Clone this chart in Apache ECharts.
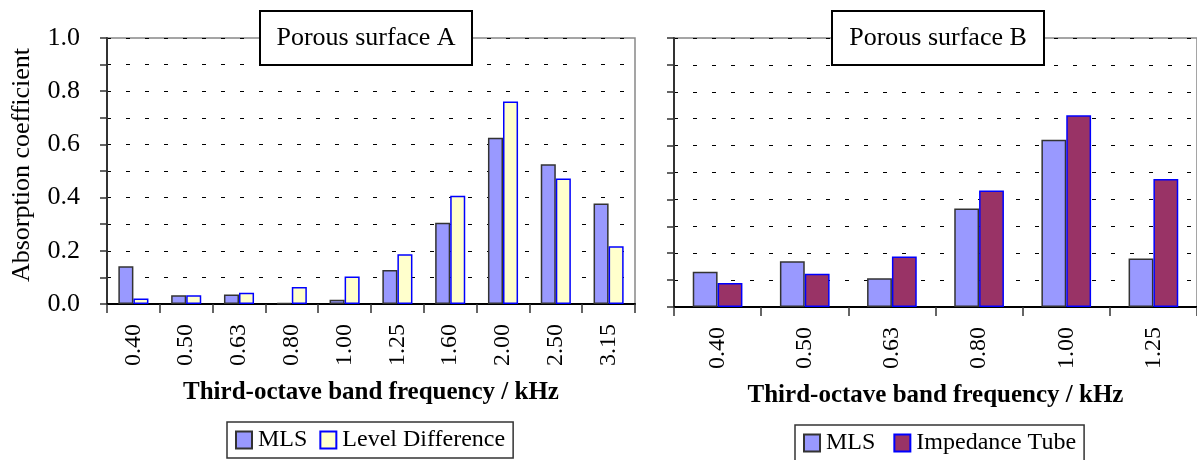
<!DOCTYPE html>
<html>
<head>
<meta charset="utf-8">
<script src="https://cdn.jsdelivr.net/npm/echarts@6/dist/echarts.min.js"></script>
<style>
html,body{margin:0;padding:0;background:#fff;}
#chart{width:1197px;height:460px;}
</style>
</head>
<body>
<div id="chart"></div>
<script>
// ---- data ----
const categoriesA = ['0.40','0.50','0.63','0.80','1.00','1.25','1.60','2.00','2.50','3.15'];
const mlsA = [0.142, 0.033, 0.036, 0.003, 0.016, 0.128, 0.305, 0.625, 0.525, 0.378];
const levelDiffA = [0.021, 0.033, 0.042, 0.064, 0.103, 0.187, 0.407, 0.761, 0.472, 0.217];

const categoriesB = ['0.40','0.50','0.63','0.80','1.00','1.25'];
const mlsB = [0.131, 0.170, 0.107, 0.366, 0.622, 0.180];
const tubeB = [0.089, 0.124, 0.188, 0.433, 0.713, 0.476];

const yTickLabels = ['0.0','0.2','0.4','0.6','0.8','1.0'];
const titleA = 'Porous surface A';
const titleB = 'Porous surface B';
const xAxisName = 'Third-octave band frequency / kHz';
const yAxisName = 'Absorption coefficient';

// ---- styles ----
const FONT = "'Liberation Serif', 'Times New Roman', serif";
const C_MLS = '#9999ff', C_LD = '#ffffcc', C_TUBE = '#993366';

const chart = echarts.init(document.getElementById('chart'), null, {renderer: 'canvas'});

function yAxis(gridIndex, showLabels) {
  return {
    type: 'value', gridIndex, min: 0, max: 1, interval: 0.1,
    name: showLabels ? yAxisName : '',
    nameLocation: 'middle', nameGap: 72,
    nameTextStyle: {fontFamily: FONT, fontSize: 26, color: '#000', padding: [0, 0, 0, 12]},
    axisLine: {show: true, lineStyle: {color: '#333', width: 2}},
    axisTick: {show: true, length: 7, lineStyle: {color: '#333', width: 1.5}},
    axisLabel: {
      show: showLabels, margin: 27, fontFamily: FONT, fontSize: 26, color: '#000',
      formatter: v => { const s = v.toFixed(1); return yTickLabels.includes(s) ? s : ''; }
    },
    splitLine: {show: true, lineStyle: {color: '#000', width: 1, type: [4, 15]}}
  };
}
function xAxis(gridIndex, cats) {
  return {
    type: 'category', gridIndex, data: cats,
    name: xAxisName, nameLocation: 'middle', nameGap: 76,
    nameTextStyle: {fontFamily: FONT, fontSize: 25, fontWeight: 'bold', color: '#000'},
    axisLine: {show: true, lineStyle: {color: '#000', width: 2}},
    axisTick: {show: true, length: 9, lineStyle: {color: '#333', width: 1.5}},
    axisLabel: {rotate: 90, margin: 20, fontFamily: FONT, fontSize: 24, color: '#000'},
    splitLine: {show: false}
  };
}

const option = {
  animation: false,
  backgroundColor: '#fff',
  grid: [
    {left: 107, top: 38, width: 528, height: 266, show: true, borderColor: '#888', borderWidth: 1.5, backgroundColor: 'transparent'},
    {left: 674, top: 38, width: 530, height: 269, show: true, borderColor: '#888', borderWidth: 1.5, backgroundColor: 'transparent'}
  ],
  xAxis: [xAxis(0, categoriesA), xAxis(1, categoriesB)],
  yAxis: [yAxis(0, true), yAxis(1, false)],
  legend: [
    {
      data: ['MLS', 'Level Difference'], left: 227, top: 422,
      padding: [6, 8, 6, 8], itemGap: 12, itemWidth: 16, itemHeight: 17,
      borderColor: '#333', borderWidth: 1.5, icon: 'rect',
      textStyle: {fontFamily: FONT, fontSize: 24, color: '#000', padding: [0, 0, 0, 1]}
    },
    {
      data: ['MLS ', 'Impedance Tube'], left: 795, top: 425,
      padding: [6, 8, 6, 8], itemGap: 12, itemWidth: 16, itemHeight: 17,
      borderColor: '#333', borderWidth: 1.5, icon: 'rect',
      textStyle: {fontFamily: FONT, fontSize: 24, color: '#000', padding: [0, 0, 0, 1]}
    }
  ],
  series: [
    {name: 'MLS', type: 'bar', xAxisIndex: 0, yAxisIndex: 0, data: mlsA,
     barGap: '0%', barCategoryGap: '43%',
     itemStyle: {color: C_MLS, borderColor: '#333', borderWidth: 1.5}},
    {name: 'Level Difference', type: 'bar', xAxisIndex: 0, yAxisIndex: 0, data: levelDiffA,
     barGap: '0%', barCategoryGap: '43%',
     itemStyle: {color: C_LD, borderColor: '#0000ff', borderWidth: 1.5}},
    {name: 'MLS ', type: 'bar', xAxisIndex: 1, yAxisIndex: 1, data: mlsB,
     barGap: '0%', barCategoryGap: '43%',
     itemStyle: {color: C_MLS, borderColor: '#333', borderWidth: 1.5}},
    {name: 'Impedance Tube', type: 'bar', xAxisIndex: 1, yAxisIndex: 1, data: tubeB,
     barGap: '0%', barCategoryGap: '43%',
     itemStyle: {color: C_TUBE, borderColor: '#0000ff', borderWidth: 1.5}}
  ],
  graphic: [
    {type: 'rect', zlevel: 5, z: 100, shape: {x: 260, y: 11, width: 212, height: 54},
     style: {fill: '#fff', stroke: '#000', lineWidth: 2}},
    {type: 'text', zlevel: 5, z: 101, x: 366, y: 38,
     style: {text: titleA, fill: '#000', font: "26px 'Liberation Serif', serif", textAlign: 'center', textVerticalAlign: 'middle'}},
    {type: 'rect', zlevel: 5, z: 100, shape: {x: 832, y: 11, width: 212, height: 54},
     style: {fill: '#fff', stroke: '#000', lineWidth: 2}},
    {type: 'text', zlevel: 5, z: 101, x: 938, y: 38,
     style: {text: titleB, fill: '#000', font: "26px 'Liberation Serif', serif", textAlign: 'center', textVerticalAlign: 'middle'}}
  ]
};
chart.setOption(option);
</script>
</body>
</html>
